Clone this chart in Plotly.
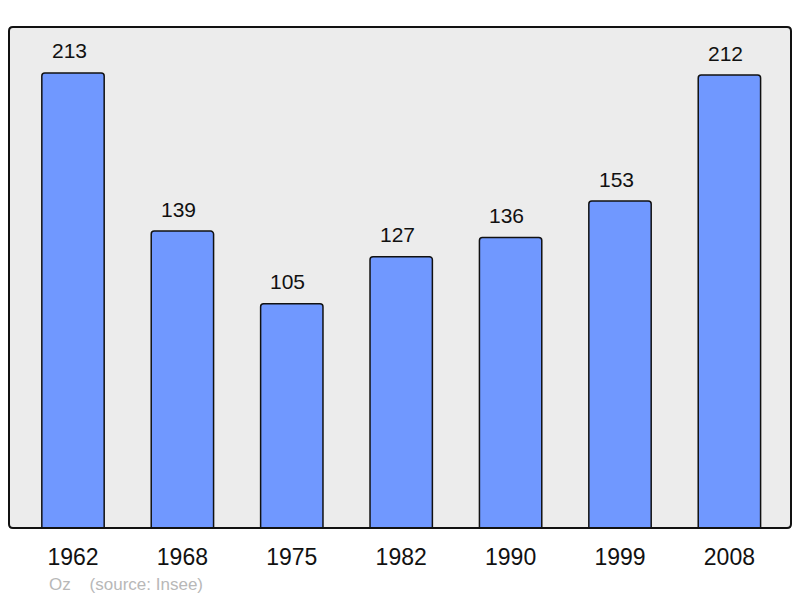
import plotly.graph_objects as go

years = ["1962", "1968", "1975", "1982", "1990", "1999", "2008"]
population = [213, 139, 105, 127, 136, 153, 212]
footer = "Oz    (source: Insee)"

xs = list(range(len(years)))

fig = go.Figure()
fig.add_trace(go.Bar(
    x=xs, y=population, width=0.57,
    marker=dict(color="#7098ff", line=dict(color="#111111", width=1.5), cornerradius=3),
    hoverinfo="skip",
))

for x, v in zip(xs, population):
    fig.add_annotation(x=x, y=v, text=str(v), showarrow=False, yshift=22, xshift=-4,
                       font=dict(family="Liberation Sans, Arial", size=21, color="#111111"))

fig.add_annotation(xref="paper", yref="paper", x=0.049, y=-0.112, xanchor="left", yanchor="middle",
                   text=footer, showarrow=False,
                   font=dict(family="Liberation Sans, Arial", size=17, color="#b8b8b8"))

fig.update_layout(
    width=800, height=598,
    margin=dict(l=9, r=9, t=27, b=70),
    paper_bgcolor="white", plot_bgcolor="#ececec",
    showlegend=False,
    xaxis=dict(range=[-0.585, 6.563], tickmode="array", tickvals=xs, ticktext=years,
               showgrid=False, zeroline=False, ticks="outside", ticklen=8,
               tickcolor="rgba(0,0,0,0)",
               tickfont=dict(family="Liberation Sans, Arial", size=23, color="#111111")),
    yaxis=dict(range=[0, 234.5], showgrid=False, zeroline=False, showticklabels=False),
    shapes=[dict(type="path", xref="paper", yref="paper",
                 path="M 0.005,0 L 0.995,0 Q 1,0 1,0.008 L 1,0.992 Q 1,1 0.995,1 L 0.005,1 Q 0,1 0,0.992 L 0,0.008 Q 0,0 0.005,0 Z",
                 line=dict(color="#111111", width=2), layer="above")],
)

fig.write_html("out.html", config={"displayModeBar": False},
               post_script="document.body.style.margin='0';document.body.style.overflow='hidden';")
